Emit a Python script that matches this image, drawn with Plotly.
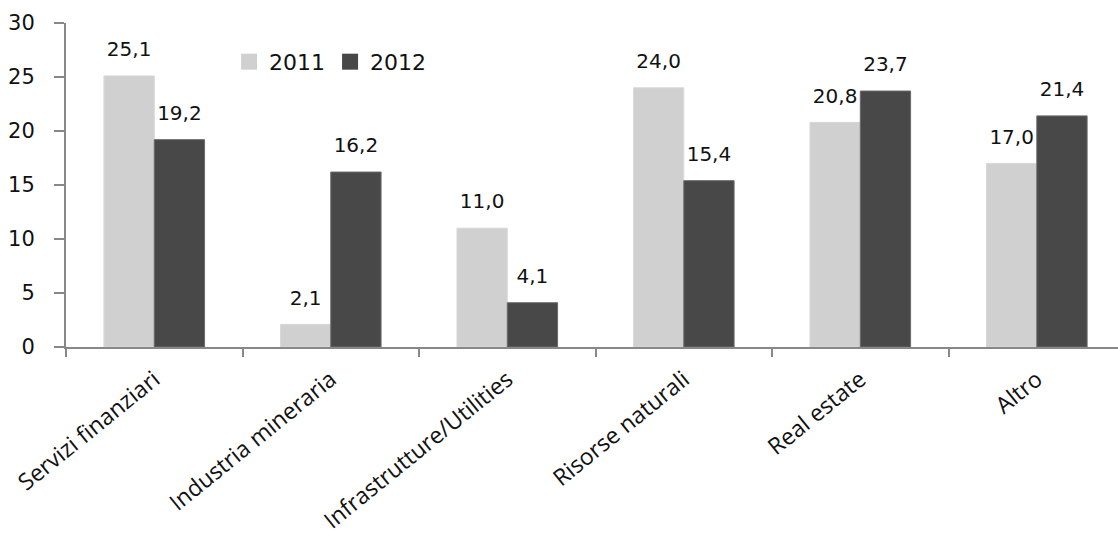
import plotly.graph_objects as go

categories = ["Servizi finanziari", "Industria mineraria", "Infrastrutture/Utilities",
              "Risorse naturali", "Real estate", "Altro"]
values_2011 = [25.1, 2.1, 11.0, 24.0, 20.8, 17.0]
values_2012 = [19.2, 16.2, 4.1, 15.4, 23.7, 21.4]
series_names = ["2011", "2012"]
y_ticks = [0, 5, 10, 15, 20, 25, 30]

c_light = "#d0d0d0"
c_dark = "#484848"

def fmt(v):
    return f"{v:.1f}".replace(".", ",")

fig = go.Figure()
for name, vals, col, line in [(series_names[0], values_2011, c_light, "#d8d8d8"),
                              (series_names[1], values_2012, c_dark, "#6a6a6a")]:
    fig.add_trace(go.Bar(x=categories, y=vals, name=name, marker=dict(color=col, line=dict(color=line, width=1)),
                         offsetgroup=name, showlegend=False, hoverinfo="skip"))
for name, vals in [(series_names[0], values_2011), (series_names[1], values_2012)]:
    fig.add_trace(go.Scatter(x=categories, y=vals, mode="markers+text", text=[fmt(v) for v in vals],
                             textposition="top center", offsetgroup=name,
                             marker=dict(size=22, color="rgba(0,0,0,0)"),
                             textfont=dict(family="DejaVu Sans", size=20, color="#111"),
                             showlegend=False, hoverinfo="skip", cliponaxis=False))
for name, col in [(series_names[0], c_light), (series_names[1], c_dark)]:
    fig.add_trace(go.Scatter(x=[None], y=[None], mode="markers", name=name,
                             marker=dict(symbol="square", size=16, color=col)))

fig.update_layout(
    width=1118, height=540,
    margin=dict(l=66, r=0, t=23, b=193),
    paper_bgcolor="white", plot_bgcolor="white",
    barmode="group", bargap=0.43, bargroupgap=0,
    scattermode="group", scattergap=0.43,
    font=dict(family="DejaVu Sans", color="#111"),
    legend=dict(orientation="h", x=0.155, y=0.88, xanchor="left", yanchor="middle",
                font=dict(family="DejaVu Sans", size=22, color="#111"),
                itemsizing="trace", bgcolor="rgba(0,0,0,0)", tracegroupgap=0,
                itemwidth=30),
    showlegend=True,
)
fig.update_xaxes(
    type="category", range=[-0.5, 5.46], showline=True, linecolor="#888888", linewidth=2,
    ticks="outside", tickson="boundaries", ticklen=8, tickcolor="#888888", tickwidth=2,
    tickangle=-39, tickfont=dict(family="Open Sans", size=23, color="#111"), ticklabelstandoff=8,
    showgrid=False, automargin=False, zeroline=False,
)
fig.update_yaxes(
    range=[0, 30], tickvals=y_ticks, showline=True, linecolor="#888888", linewidth=2,
    ticks="outside", ticklen=10, tickcolor="#888888", tickwidth=2,
    tickfont=dict(family="DejaVu Sans", size=21, color="#111"), ticklabelstandoff=15,
    showgrid=False, zeroline=False, automargin=False,
)
fig.write_html("out.html")
